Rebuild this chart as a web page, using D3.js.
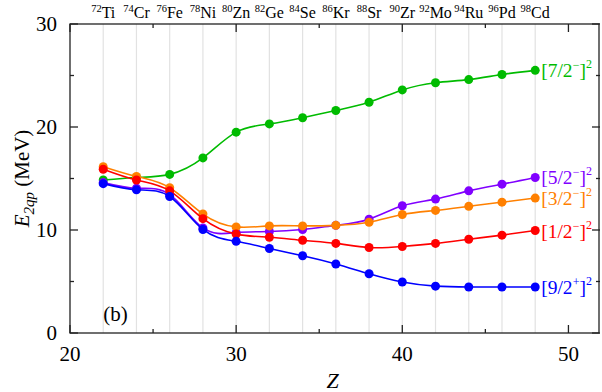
<!DOCTYPE html>
<html>
<head>
<meta charset="utf-8">
<script src="https://cdn.jsdelivr.net/npm/d3@7"></script>
<style>
  body { margin: 0; background: #fff; }
  text { font-family: "Liberation Serif", "DejaVu Serif", serif; }
</style>
</head>
<body>
<div id="chart"></div>
<script>
// Data
const zValues = [22, 24, 26, 28, 30, 32, 34, 36, 38, 40, 42, 44, 46, 48];
const nuclei = [
  ["72", "Ti"], ["74", "Cr"], ["76", "Fe"], ["78", "Ni"], ["80", "Zn"], ["82", "Ge"], ["84", "Se"],
  ["86", "Kr"], ["88", "Sr"], ["90", "Zr"], ["92", "Mo"], ["94", "Ru"], ["96", "Pd"], ["98", "Cd"]
];
const e72 = [14.85, 15.1, 15.4, 17.0, 19.5, 20.3, 20.9, 21.6, 22.4, 23.6, 24.3, 24.6, 25.1, 25.5];
const e52 = [14.6, 14.05, 13.45, 10.2, 9.75, 9.85, 10.05, 10.45, 11.05, 12.35, 13.0, 13.8, 14.45, 15.1];
const e32 = [16.15, 15.2, 14.1, 11.55, 10.3, 10.4, 10.4, 10.45, 10.75, 11.5, 11.9, 12.3, 12.7, 13.1];
const e12 = [15.9, 14.85, 13.8, 11.1, 9.6, 9.3, 9.0, 8.7, 8.3, 8.4, 8.7, 9.1, 9.5, 9.95];
const e92 = [14.5, 13.9, 13.25, 10.05, 8.9, 8.2, 7.5, 6.7, 5.75, 4.95, 4.55, 4.47, 4.47, 4.47];

const series = [
  { name: "7/2", parity: "\u2212", col: "#00bb00", values: e72 },
  { name: "3/2", parity: "\u2212", col: "#ff8000", values: e32 },
  { name: "1/2", parity: "\u2212", col: "#ff0000", values: e12 },
  { name: "5/2", parity: "\u2212", col: "#8000ff", values: e52 },
  { name: "9/2", parity: "+", col: "#0000ff", values: e92 }
];
// drawing order (bottom to top)
const drawOrder = [0, 3, 1, 2, 4];

const width = 602, height = 392;
const margin = { left: 70, right: 2, top: 24, bottom: 59 };

const svg = d3.select("#chart").append("svg")
    .attr("width", width)
    .attr("height", height);

const x = d3.scaleLinear().domain([20, 51.9]).range([margin.left, width - margin.right]);
const y = d3.scaleLinear().domain([0, 30]).range([height - margin.bottom, margin.top]);

// Light gridlines at each nucleus
svg.append("g")
  .selectAll("line")
  .data(zValues)
  .join("line")
    .attr("x1", d => x(d)).attr("x2", d => x(d))
    .attr("y1", y(0)).attr("y2", y(30))
    .attr("stroke", "#e2e2e2")
    .attr("stroke-width", 1.2);

// Axes (ticks inward, mirrored)
const xMajor = [20, 30, 40, 50], xMinor = [25, 35, 45];
const yMajor = [0, 10, 20, 30], yMinor = [5, 15, 25];

const axes = svg.append("g").attr("stroke", "#222").attr("stroke-width", 1.3);
[[xMajor, 8], [xMinor, 4]].forEach(([ticks, len]) => {
  axes.append("g").selectAll("line").data(ticks).join("line")
      .attr("x1", d => x(d)).attr("x2", d => x(d))
      .attr("y1", y(0)).attr("y2", y(0) - len);
  axes.append("g").selectAll("line").data(ticks).join("line")
      .attr("x1", d => x(d)).attr("x2", d => x(d))
      .attr("y1", y(30)).attr("y2", y(30) + len);
});
[[yMajor, 8], [yMinor, 4]].forEach(([ticks, len]) => {
  axes.append("g").selectAll("line").data(ticks).join("line")
      .attr("x1", x.range()[0]).attr("x2", x.range()[0] + len)
      .attr("y1", d => y(d)).attr("y2", d => y(d));
  axes.append("g").selectAll("line").data(ticks).join("line")
      .attr("x1", x.range()[1]).attr("x2", x.range()[1] - len)
      .attr("y1", d => y(d)).attr("y2", d => y(d));
});
axes.append("rect")
    .attr("x", x.range()[0]).attr("y", y(30))
    .attr("width", x.range()[1] - x.range()[0] - 1)
    .attr("height", y(0) - y(30))
    .attr("fill", "none");

// Tick labels
svg.append("g").selectAll("text").data(xMajor).join("text")
    .attr("x", d => x(d)).attr("y", y(0) + 28)
    .attr("text-anchor", "middle")
    .attr("font-size", 21)
    .text(d => d);
svg.append("g").selectAll("text").data(yMajor).join("text")
    .attr("x", x.range()[0] - 13).attr("y", d => y(d) + 7)
    .attr("text-anchor", "end")
    .attr("font-size", 21)
    .text(d => d);

// Axis titles
svg.append("text")
    .attr("x", x(35.8)).attr("y", 388)
    .attr("text-anchor", "middle")
    .attr("font-size", 22)
    .attr("font-style", "italic")
    .text("Z");

const ylab = svg.append("text")
    .attr("transform", `translate(29, ${y(15)}) rotate(-90)`)
    .attr("text-anchor", "middle")
    .attr("font-size", 21);
ylab.append("tspan").attr("font-style", "italic").text("E");
ylab.append("tspan").attr("font-style", "italic").attr("font-size", 15).attr("dy", 5).text("2qp");
ylab.append("tspan").attr("dy", -5).text(" (MeV)");

// Nucleus labels along the top
const nucLabels = svg.append("g").selectAll("text").data(nuclei).join("text")
    .attr("x", (d, i) => x(zValues[i]))
    .attr("y", 18)
    .attr("text-anchor", "middle")
    .attr("font-size", 16);
nucLabels.append("tspan").attr("font-size", 10.5).attr("dy", -6).text(d => d[0]);
nucLabels.append("tspan").attr("dy", 6).text(d => d[1]);

// Curves and points
const line = d3.line()
    .x((d, i) => x(zValues[i]))
    .y(d => y(d))
    .curve(d3.curveNatural);

const plot = svg.append("g");
drawOrder.forEach(k => {
  const s = series[k];
  plot.append("path")
      .attr("d", line(s.values))
      .attr("fill", "none")
      .attr("stroke", s.col)
      .attr("stroke-width", 1.6);
  plot.append("g").selectAll("circle").data(s.values).join("circle")
      .attr("cx", (d, i) => x(zValues[i]))
      .attr("cy", d => y(d))
      .attr("r", 4.5)
      .attr("fill", s.col);
});

// Series labels at the right end
const lab = svg.append("g").selectAll("text").data(series).join("text")
    .attr("x", x(48) + 6)
    .attr("y", d => y(d.values[d.values.length - 1]) + 7)
    .attr("font-size", 19.5)
    .attr("fill", d => d.col);
lab.append("tspan").text(d => "[" + d.name);
lab.append("tspan").attr("font-size", 12).attr("dy", -8).text(d => d.parity);
lab.append("tspan").attr("dy", 8).text("]");
lab.append("tspan").attr("font-size", 12).attr("dy", -9).text("2");

// Panel tag
svg.append("text")
    .attr("x", x(22)).attr("y", y(1.2))
    .attr("font-size", 21)
    .text("(b)");
</script>
</body>
</html>
